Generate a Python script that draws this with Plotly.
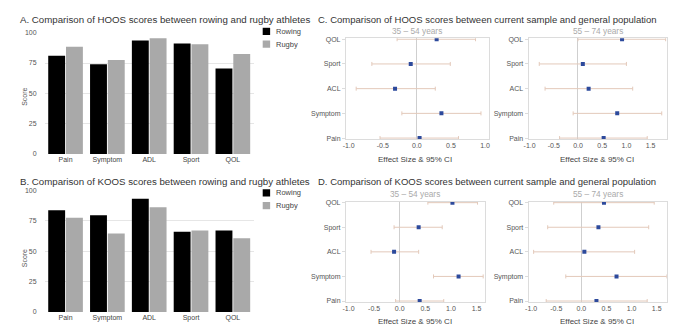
import plotly.graph_objects as go

W, H = 676, 328
FONT = "Liberation Sans, Arial, sans-serif"

# ---------------- data ----------------
bar_categories = ["Pain", "Symptom", "ADL", "Sport", "QOL"]
hoos_rowing = [81, 74, 93.5, 91, 70.5]
hoos_rugby = [88.5, 77.5, 95.5, 90.5, 82.5]
koos_rowing = [83.5, 79.5, 93, 66, 67]
koos_rugby = [77.5, 64.5, 86, 67, 60.5]
score_ticks = [0, 25, 50, 75, 100]
series_names = ["Rowing", "Rugby"]

forest_categories = ["Pain", "Symptom", "ACL", "Sport", "QOL"]
# HOOS 35-54
hoos_35_es = [0.04, 0.36, -0.32, -0.09, 0.29]
hoos_35_lo = [-0.54, -0.22, -0.89, -0.66, -0.29]
hoos_35_hi = [0.61, 0.94, 0.27, 0.49, 0.86]
# HOOS 55-74
hoos_55_es = [0.53, 0.81, 0.22, 0.10, 0.91]
hoos_55_lo = [-0.38, -0.10, -0.68, -0.80, 0.00]
hoos_55_hi = [1.43, 1.73, 1.13, 1.00, 1.81]
# KOOS 35-54
koos_35_es = [0.39, 1.15, -0.11, 0.37, 1.03]
koos_35_lo = [-0.08, 0.66, -0.56, -0.11, 0.55]
koos_35_hi = [0.86, 1.63, 0.37, 0.83, 1.52]
# KOOS 55-74
koos_55_es = [0.30, 0.70, 0.06, 0.34, 0.45]
koos_55_lo = [-0.70, -0.31, -0.95, -0.67, -0.55]
koos_55_hi = [1.31, 1.70, 1.06, 1.34, 1.45]
effect_ticks = [-1.0, -0.5, 0.0, 0.5, 1.0, 1.5]


def px(x):
    return x / W


def py(y):
    return 1 - y / H


fig = go.Figure()

ROW_C, RUG_C = "#000000", "#a9a9a9"

# bar panels
for rowing, rugby, ax in [(hoos_rowing, hoos_rugby, ""), (koos_rowing, koos_rugby, "2")]:
    fig.add_trace(go.Bar(x=bar_categories, y=rowing, name=series_names[0], marker_color=ROW_C,
                         marker_line_width=0, xaxis="x" + ax, yaxis="y" + ax,
                         showlegend=False))
    fig.add_trace(go.Bar(x=bar_categories, y=rugby, name=series_names[1], marker_color=RUG_C,
                         marker_line_width=0, xaxis="x" + ax, yaxis="y" + ax,
                         showlegend=False))

# forest panels
forest = [
    (hoos_35_es, hoos_35_lo, hoos_35_hi, "3"),
    (hoos_55_es, hoos_55_lo, hoos_55_hi, "4"),
    (koos_35_es, koos_35_lo, koos_35_hi, "5"),
    (koos_55_es, koos_55_lo, koos_55_hi, "6"),
]
cat_idx = list(range(len(forest_categories)))
for es, lo, hi, ax in forest:
    fig.add_trace(go.Scatter(
        x=es, y=cat_idx, mode="markers",
        marker=dict(symbol="square", size=4, color="#2d4a9c"),
        error_x=dict(type="data", symmetric=False,
                     array=[h - e for h, e in zip(hi, es)],
                     arrayminus=[e - l for e, l in zip(es, lo)],
                     color="#e3c9ba", thickness=1, width=2),
        xaxis="x" + ax, yaxis="y" + ax, showlegend=False, hoverinfo="skip"))

tickfont = dict(family=FONT, size=7, color="#555555")

layout = dict(
    width=W, height=H, margin=dict(l=0, r=0, t=0, b=0),
    paper_bgcolor="white", plot_bgcolor="white",
    font=dict(family=FONT, color="#333333"),
    barmode="group", bargap=0.15, bargroupgap=0.05,
    showlegend=False,
)

# bar axes
bar_y = {"": (153.3, 29.3), "2": (314.7, 190.3)}
for ax, (yb, yt) in bar_y.items():
    layout["xaxis" + ax] = dict(domain=[px(40), px(251)], anchor="y" + ax,
                                showgrid=False, zeroline=False, showline=False,
                                ticks="", tickfont=dict(family=FONT, size=7, color="#444444"),
                                fixedrange=True)
    layout["yaxis" + ax] = dict(domain=[py(yb), py(yt)], anchor="x" + ax, range=[0, 100],
                                tickvals=score_ticks, showgrid=True, gridcolor="#e6e6e6",
                                gridwidth=1, zeroline=False, showline=False, ticks="",
                                tickfont=tickfont, ticklabelstandoff=7)

# forest axes
fx = {"3": (344, 488.5, [-1.04, 1.06]), "4": (528.3, 668, [-1.02, 1.84]),
      "5": (344, 484, [-1.05, 1.66]), "6": (528.3, 667.7, [-1.05, 1.70])}
fy = {"3": (138, 35), "4": (138, 35), "5": (304.5, 202), "6": (304.5, 202)}
for ax in ["3", "4", "5", "6"]:
    x0, x1, rng = fx[ax]
    yb, yt = fy[ax]
    layout["xaxis" + ax] = dict(domain=[px(x0), px(x1)], anchor="y" + ax, range=rng,
                                tickvals=effect_ticks, ticktext=[f"{v:.1f}" for v in effect_ticks],
                                showgrid=False, zeroline=True, zerolinecolor="#cfcfcf",
                                zerolinewidth=1, showline=True, linecolor="#dcdcdc",
                                linewidth=1, mirror=True, ticks="", tickfont=tickfont)
    layout["yaxis" + ax] = dict(domain=[py(yb), py(yt)], anchor="x" + ax, range=[-0.04, 4.04],
                                tickvals=cat_idx, ticktext=forest_categories,
                                showgrid=False, zeroline=False, showline=True,
                                linecolor="#dcdcdc", linewidth=1, mirror=True,
                                ticks="outside", ticklen=3, tickcolor="#dcdcdc",
                                tickfont=tickfont)

annotations = []
shapes = []


def text(x, y, s, size, color="#333333", xanchor="left", angle=0):
    annotations.append(dict(x=px(x), y=py(y), xref="paper", yref="paper", text=s,
                            showarrow=False, xanchor=xanchor, yanchor="middle",
                            textangle=angle,
                            font=dict(family=FONT, size=size, color=color)))


text(13, 16, "A. Comparison of HOOS scores between rowing and rugby athletes", 9.7)
text(13, 181, "B. Comparison of KOOS scores between rowing and rugby athletes", 9.7)
text(314, 16, "C. Comparison of HOOS scores between current sample and general population", 9.5)
text(314, 181, "D. Comparison of KOOS scores between current sample and general population", 9.5)
text(20, 95, "Score", 7, "#555555", "center", -90)
text(20, 260, "Score", 7, "#555555", "center", -90)
for cx, cy, s in [(416, 28, "35 – 54 years"), (598, 28, "55 – 74 years"),
                  (414, 194, "35 – 54 years"), (598, 194, "55 – 74 years")]:
    text(cx, cy, s, 8.3, "#aaaaaa", "center")
for cx, cy in [(414, 159), (597, 159), (414, 324), (597, 324)]:
    text(cx, cy, "Effect Size &amp; 95% CI", 8, "#444444", "center")

# legends (drawn as keys beside the bar panels)
for top in (28, 193):
    for i, (name, col) in enumerate(zip(series_names, [ROW_C, RUG_C])):
        yc = top + 13 * i
        shapes.append(dict(type="rect", xref="paper", yref="paper",
                           x0=px(260), x1=px(267.5), y0=py(yc + 3.7), y1=py(yc - 3.7),
                           fillcolor=col, line=dict(width=0)))
        text(271, yc, name, 7.5, "#444444")

layout["annotations"] = annotations
layout["shapes"] = shapes
fig.update_layout(**layout)
fig.write_html("out.html", config={"displayModeBar": False},
               post_script="document.body.style.margin='0';")
